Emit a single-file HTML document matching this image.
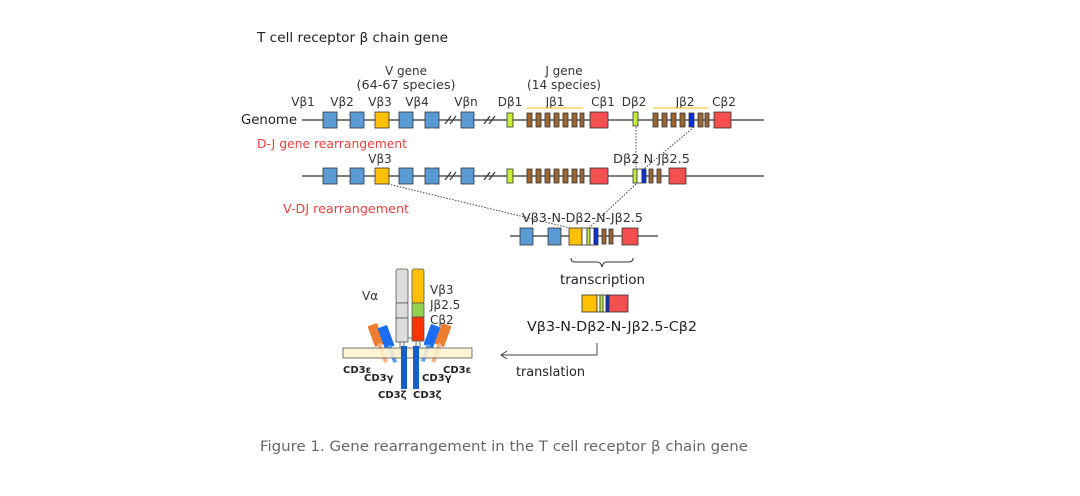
<!DOCTYPE html>
<html><head><meta charset="utf-8"><style>
body{margin:0;background:#fff;}
svg{display:block;font-family:"DejaVu Sans","Liberation Sans",sans-serif;}
.t{font-size:12px;fill:#333;}
</style></head><body>
<svg width="1080" height="496" viewBox="0 0 1080 496" xmlns="http://www.w3.org/2000/svg">
<defs>
<g id="row" stroke="#333" stroke-width="0.8">
<line x1="302" y1="0" x2="764" y2="0" stroke="#333" stroke-width="1.2"/>
<rect x="323" y="-8" width="14" height="16" fill="#5b9bd5"/>
<rect x="350" y="-8" width="14" height="16" fill="#5b9bd5"/>
<rect x="375" y="-8" width="14" height="16" fill="#ffc000"/>
<rect x="399" y="-8" width="14" height="16" fill="#5b9bd5"/>
<rect x="425" y="-8" width="14" height="16" fill="#5b9bd5"/>
<rect x="461" y="-8" width="13" height="16" fill="#5b9bd5"/>
<rect x="507" y="-7" width="6" height="14" fill="#c6ef3a"/>
<rect x="527" y="-7" width="5" height="14" fill="#9c6430"/>
<rect x="536" y="-7" width="5" height="14" fill="#9c6430"/>
<rect x="545" y="-7" width="5" height="14" fill="#9c6430"/>
<rect x="554" y="-7" width="5" height="14" fill="#9c6430"/>
<rect x="563" y="-7" width="5" height="14" fill="#9c6430"/>
<rect x="572" y="-7" width="5" height="14" fill="#9c6430"/>
<rect x="580" y="-7" width="4" height="14" fill="#9c6430"/>
<rect x="590" y="-8" width="18" height="16" fill="#f44f4f"/>
<g stroke-width="1.2"><line x1="445" y1="4" x2="451" y2="-4"/><line x1="450" y1="4" x2="456" y2="-4"/>
<line x1="484" y1="4" x2="490" y2="-4"/><line x1="489" y1="4" x2="495" y2="-4"/></g>
</g>
</defs>
<text x="257" y="42" font-size="13" fill="#222" textLength="191" lengthAdjust="spacingAndGlyphs">T cell receptor β chain gene</text>
<g class="t" text-anchor="middle">
<text x="406" y="75">V gene</text><text x="406" y="89" textLength="99" lengthAdjust="spacingAndGlyphs">(64-67 species)</text>
<text x="564" y="75">J gene</text><text x="564" y="89" textLength="74" lengthAdjust="spacingAndGlyphs">(14 species)</text>
<text x="303" y="106">Vβ1</text><text x="342" y="106">Vβ2</text><text x="380" y="106">Vβ3</text>
<text x="417" y="106">Vβ4</text><text x="466" y="106">Vβn</text><text x="510" y="106">Dβ1</text>
<text x="555" y="106">Jβ1</text><text x="603" y="106">Cβ1</text><text x="634" y="106">Dβ2</text>
<text x="685" y="106">Jβ2</text><text x="724" y="106">Cβ2</text>
<text x="380" y="163">Vβ3</text>
</g>
<text x="241" y="124" font-size="13" fill="#222" textLength="56" lengthAdjust="spacingAndGlyphs">Genome</text>
<text x="257" y="148" font-size="12" fill="#f04040" textLength="150" lengthAdjust="spacingAndGlyphs">D-J gene rearrangement</text>
<text x="283" y="213" font-size="12" fill="#f04040" textLength="126" lengthAdjust="spacingAndGlyphs">V-DJ rearrangement</text>
<g stroke="#ffc000" stroke-width="1"><line x1="527" y1="108" x2="583" y2="108"/><line x1="653" y1="108" x2="708" y2="108"/></g>
<g stroke="#333" stroke-width="0.8">
<use href="#row" transform="translate(0,120)"/>
<rect x="633" y="112" width="5" height="14" fill="#c6ef3a"/>
<rect x="653" y="113" width="5" height="14" fill="#9c6430"/>
<rect x="662" y="113" width="5" height="14" fill="#9c6430"/>
<rect x="671" y="113" width="5" height="14" fill="#9c6430"/>
<rect x="680" y="113" width="5" height="14" fill="#9c6430"/>
<rect x="689" y="113" width="5" height="14" fill="#0033dd"/>
<rect x="698" y="113" width="5" height="14" fill="#9c6430"/>
<rect x="705" y="113" width="4" height="14" fill="#9c6430"/>
<rect x="714" y="112" width="17" height="16" fill="#f44f4f"/>
<use href="#row" transform="translate(0,176)"/>
<rect x="633" y="169" width="4" height="14" fill="#c6ef3a"/>
<rect x="637" y="169" width="5" height="14" fill="#fff"/>
<rect x="642" y="169" width="4" height="14" fill="#0033dd"/>
<rect x="649" y="169" width="4" height="14" fill="#9c6430"/>
<rect x="657" y="169" width="4" height="14" fill="#9c6430"/>
<rect x="669" y="168" width="17" height="16" fill="#f44f4f"/>
</g>
<text x="613" y="163" class="t" textLength="77" lengthAdjust="spacingAndGlyphs">Dβ2 N Jβ2.5</text>
<g stroke="#444" stroke-width="1" stroke-dasharray="1.5,1.5" fill="none">
<line x1="636" y1="127" x2="636" y2="169"/>
<line x1="694" y1="127" x2="644" y2="169"/>
<line x1="388" y1="184" x2="570" y2="228"/>
<line x1="636" y1="184" x2="589" y2="228"/>
</g>
<text x="522" y="222" class="t" textLength="121" lengthAdjust="spacingAndGlyphs">Vβ3-N-Dβ2-N-Jβ2.5</text>
<g stroke="#333" stroke-width="0.8">
<line x1="510" y1="236" x2="658" y2="236" stroke-width="1.2"/>
<rect x="520" y="228" width="13" height="17" fill="#5b9bd5"/>
<rect x="548" y="228" width="13" height="17" fill="#5b9bd5"/>
<rect x="569" y="228" width="13" height="17" fill="#ffc000"/>
<rect x="582" y="228" width="5" height="17" fill="#fff"/>
<rect x="587" y="228" width="3" height="17" fill="#c6ef3a"/>
<rect x="590" y="228" width="4" height="17" fill="#fff"/>
<rect x="594" y="228" width="4" height="17" fill="#0033dd"/>
<rect x="602" y="229" width="4" height="15" fill="#9c6430"/>
<rect x="609" y="229" width="4" height="15" fill="#9c6430"/>
<rect x="622" y="228" width="16" height="17" fill="#f44f4f"/>
</g>
<path d="M571 258 q0 4 4 4 h22 q4 0 5 5 q1 -5 5 -5 h22 q4 0 4 -4" fill="none" stroke="#333" stroke-width="1"/>
<text x="560" y="284" font-size="13" fill="#222" textLength="85" lengthAdjust="spacingAndGlyphs">transcription</text>
<g stroke="#333" stroke-width="0.8">
<rect x="582" y="295" width="15" height="17" fill="#ffc000"/>
<rect x="597" y="295" width="3" height="17" fill="#fff"/>
<rect x="600" y="295" width="3" height="17" fill="#c6ef3a"/>
<rect x="603" y="295" width="3" height="17" fill="#fff"/>
<rect x="606" y="295" width="3" height="17" fill="#0033dd"/>
<rect x="609" y="295" width="19" height="17" fill="#f44f4f"/>
</g>
<text x="527" y="331" font-size="13" fill="#222" textLength="170" lengthAdjust="spacingAndGlyphs">Vβ3-N-Dβ2-N-Jβ2.5-Cβ2</text>
<path d="M597 343 V355 H501 M507 351 L501 355 L507 359" fill="none" stroke="#444" stroke-width="1"/>
<text x="516" y="376" font-size="13" fill="#222" textLength="69" lengthAdjust="spacingAndGlyphs">translation</text>
<g stroke="#555" stroke-width="0.8">
<rect x="400" y="340" width="4" height="15" fill="#eee"/>
<rect x="416" y="340" width="4" height="15" fill="#eee"/>
<g transform="rotate(-20 376 335)"><rect x="371" y="324" width="10" height="22" rx="1" fill="#ed7d31" stroke="none"/><rect x="374" y="344" width="4" height="20" fill="#f4b183" stroke="none"/></g>
<g transform="rotate(-20 386 337)"><rect x="381" y="326" width="10" height="22" rx="1" fill="#1a6cf0" stroke="none"/><rect x="384" y="346" width="4" height="18" fill="#5ea0f5" stroke="none"/></g>
<g transform="rotate(20 432 336)"><rect x="427" y="325" width="10" height="22" rx="1" fill="#1a6cf0" stroke="none"/><rect x="430" y="345" width="4" height="18" fill="#5ea0f5" stroke="none"/></g>
<g transform="rotate(20 443 335)"><rect x="438" y="324" width="10" height="22" rx="1" fill="#ed7d31" stroke="none"/><rect x="441" y="344" width="4" height="20" fill="#f4b183" stroke="none"/></g>
<rect x="343" y="348" width="129" height="10" fill="#fff2cc" fill-opacity="0.85"/>
<rect x="401" y="346" width="6" height="43" fill="#1560c8" stroke="none"/>
<rect x="413" y="346" width="6" height="43" fill="#1560c8" stroke="none"/>
<rect x="396" y="269" width="12" height="34" rx="2" fill="#ddd"/>
<rect x="396" y="303" width="12" height="15" fill="#ddd"/>
<rect x="396" y="318" width="12" height="24" fill="#ddd"/>
<rect x="412" y="269" width="12" height="34" rx="2" fill="#ffc000"/>
<rect x="412" y="303" width="12" height="14" fill="#92d050"/>
<rect x="412" y="317" width="12" height="24" fill="#ff3300"/>
<line x1="408" y1="338" x2="412" y2="338"/>
</g>
<g class="t"><text x="362" y="300">Vα</text><text x="430" y="294">Vβ3</text><text x="430" y="309">Jβ2.5</text><text x="430" y="324">Cβ2</text></g>
<g font-size="10" font-weight="bold" fill="#222">
<text x="343" y="373">CD3ε</text><text x="364" y="381">CD3γ</text><text x="378" y="398">CD3ζ</text>
<text x="413" y="398">CD3ζ</text><text x="422" y="381">CD3γ</text><text x="443" y="373">CD3ε</text>
</g>
<text x="260" y="451" font-size="14" fill="#666" textLength="488" lengthAdjust="spacingAndGlyphs">Figure 1. Gene rearrangement in the T cell receptor β chain gene</text>
</svg>
</body></html>
